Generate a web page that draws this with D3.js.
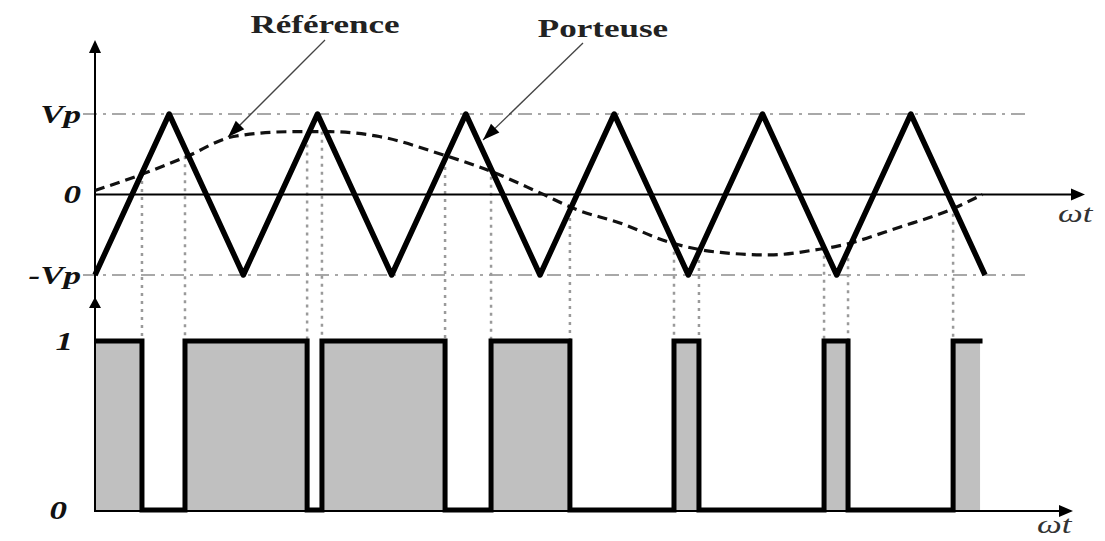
<!DOCTYPE html>
<html>
<head>
<meta charset="utf-8">
<script src="https://cdn.jsdelivr.net/npm/d3@7"></script>
<style>
  html, body { margin: 0; padding: 0; background: #fff; }
  svg { display: block; }
</style>
</head>
<body>
<svg id="chart" width="1105" height="541"></svg>
<script>
// Triangular carrier ("Porteuse"): vertex angles (degrees of ωt) and values in units of Vp
const carrierAngles = [0, 30, 60, 90, 120, 150, 180, 210, 240, 270, 300, 330, 360];
const carrierValues = [-1, 1, -1, 1, -1, 1, -1, 1, -1, 1, -1, 1, -1];

// Modulating reference ("Référence"): sampled angles and values in units of Vp
const referenceAngles = [0, 18, 37, 56, 79, 95, 115, 140, 160, 180, 195, 212, 233, 253, 273, 293, 299, 326, 346, 359];
const referenceValues = [0.05, 0.24, 0.47, 0.72, 0.78, 0.78, 0.72, 0.50, 0.29, 0.02, -0.19, -0.35, -0.60, -0.72, -0.75, -0.68, -0.65, -0.40, -0.19, 0.0];

// PWM output: switching instants (degrees); the output starts at level 1
const switchAngles = [19.0, 36.4, 85.8, 91.8, 141.6, 160.2, 192.1, 234.2, 244.3, 294.9, 304.6, 347.1];
const pwmEndAngle = 358;

// Tick values and labels
const topTickValues = [-1, 0, 1];
const topTickLabels = ["-Vp", "0", "Vp"];
const bottomTickValues = [0, 1];
const bottomTickLabels = ["0", "1"];
const annotationLabels = ["Référence", "Porteuse"];
const timeAxisLabel = "ωt";

const svg = d3.select("#chart");
const serif = "'Liberation Serif', 'DejaVu Serif', serif";
const hStretch = 1.4; // wide lettering

const x = d3.scaleLinear().domain([0, 360]).range([95, 985]);
const yTop = d3.scaleLinear().domain([-1, 1]).range([275, 114]);
const yBot = d3.scaleLinear().domain([0, 1]).range([510, 341]);
const carrierAt = d3.scaleLinear().domain(carrierAngles).range(carrierValues);

function stretchText(sel) {
  sel.each(function () {
    const w = this.getComputedTextLength();
    d3.select(this).attr("textLength", w * hStretch).attr("lengthAdjust", "spacingAndGlyphs");
  });
}

function arrowHead(g, tipX, tipY, angleDeg, len, half) {
  const a = angleDeg * Math.PI / 180;
  const bx = tipX - len * Math.cos(a), by = tipY - len * Math.sin(a);
  const px = -Math.sin(a) * half, py = Math.cos(a) * half;
  g.append("polygon")
    .attr("points", [[tipX, tipY], [bx + px, by + py], [bx - px, by - py]].map(p => p.join(",")).join(" "))
    .attr("fill", "#000");
}

// Dash-dot guide lines at ±Vp
const guides = svg.append("g");
[1, -1].forEach(v => {
  guides.append("line")
    .attr("x1", 83).attr("x2", 1030)
    .attr("y1", yTop(v)).attr("y2", yTop(v))
    .attr("stroke", "#8c8c8c").attr("stroke-width", 1.5)
    .attr("stroke-dasharray", "14,6,3,6");
});

// Dotted projections from each carrier/reference crossing down to the PWM level
svg.append("g").selectAll("line").data(switchAngles).join("line")
  .attr("x1", d => x(d)).attr("x2", d => x(d))
  .attr("y1", d => yTop(carrierAt(d))).attr("y2", yBot(1))
  .attr("stroke", "#9a9a9a").attr("stroke-width", 2.5)
  .attr("stroke-dasharray", "3,5");

// PWM gray fill for the high intervals
const highIntervals = [];
let start = 0;
switchAngles.forEach((a, i) => {
  if (i % 2 === 0) highIntervals.push([start, a]); else start = a;
});
highIntervals.push([start, pwmEndAngle]);
svg.append("g").selectAll("rect").data(highIntervals).join("rect")
  .attr("x", d => x(d[0])).attr("width", d => x(d[1]) - x(d[0]))
  .attr("y", yBot(1)).attr("height", yBot(0) - yBot(1))
  .attr("fill", "#c0c0c0");

// Axes lines
const axes = svg.append("g");
axes.append("line").attr("x1", 95).attr("x2", 95).attr("y1", 512).attr("y2", 50)
  .attr("stroke", "#000").attr("stroke-width", 2);
axes.append("line").attr("x1", 95).attr("x2", 1075).attr("y1", yTop(0)).attr("y2", yTop(0))
  .attr("stroke", "#000").attr("stroke-width", 2);
axes.append("line").attr("x1", 95).attr("x2", 1062).attr("y1", 511).attr("y2", 511)
  .attr("stroke", "#000").attr("stroke-width", 2);
arrowHead(axes, 95, 40, -90, 13, 6);
arrowHead(axes, 95, 297, -90, 11, 6);
arrowHead(axes, 1085, yTop(0), 0, 14, 6);
arrowHead(axes, 1073, 511, 0, 14, 6);

// Reference wave (dashed)
svg.append("path")
  .datum(referenceAngles.map((a, i) => [a, referenceValues[i]]))
  .attr("fill", "none").attr("stroke", "#111").attr("stroke-width", 3.2)
  .attr("stroke-dasharray", "10,6")
  .attr("d", d3.line().x(d => x(d[0])).y(d => yTop(d[1])).curve(d3.curveMonotoneX));

// Carrier (thick triangle)
svg.append("path")
  .datum(carrierAngles.map((a, i) => [a, carrierValues[i]]))
  .attr("fill", "none").attr("stroke", "#000").attr("stroke-width", 5.5)
  .attr("stroke-linejoin", "round")
  .attr("d", d3.line().x(d => x(d[0])).y(d => yTop(d[1])));

// PWM outline (step waveform)
const stepPts = [[0, 1]];
let level = 1;
switchAngles.forEach(a => { stepPts.push([a, level]); level = 1 - level; stepPts.push([a, level]); });
stepPts.push([pwmEndAngle + 1, level]);
svg.append("path")
  .datum(stepPts)
  .attr("fill", "none").attr("stroke", "#000").attr("stroke-width", 5)
  .attr("stroke-linejoin", "miter")
  .attr("d", d3.line().x(d => x(d[0])).y(d => yBot(d[1])));

// Tick labels
function styleTicks(g) {
  g.select(".domain").remove();
  g.selectAll("text")
    .attr("font-family", serif).attr("font-size", 25)
    .attr("font-style", "italic").attr("font-weight", "bold").attr("fill", "#111");
  stretchText(g.selectAll("text"));
}
svg.append("g").attr("transform", "translate(95,0)")
  .call(d3.axisLeft(yTop).tickValues(topTickValues).tickSize(0).tickPadding(14)
    .tickFormat((d, i) => topTickLabels[i]))
  .call(styleTicks);
svg.append("g").attr("transform", "translate(95,0)")
  .call(d3.axisLeft(yBot).tickValues(bottomTickValues).tickSize(0).tickPadding(22)
    .tickFormat((d, i) => bottomTickLabels[i]))
  .call(styleTicks)
  .selectAll("text").attr("dx", (d, i) => i === 0 ? -6 : 0);

// ωt labels
svg.append("g").selectAll("text").data([[1058, 222], [1037, 533]]).join("text")
  .attr("x", d => d[0]).attr("y", d => d[1])
  .attr("font-family", serif).attr("font-size", 25).attr("font-style", "italic")
  .attr("fill", "#333").text(timeAxisLabel)
  .call(stretchText);

// Annotations
const ann = svg.append("g");
const annLayout = [
  { cx: 325, by: 33, from: [325, 40], tip: [228, 137] },
  { cx: 603, by: 37, from: [583, 43], tip: [483, 140] }
];
annLayout.forEach((p, i) => {
  ann.append("text").attr("x", p.cx).attr("y", p.by).attr("text-anchor", "middle")
    .attr("font-family", serif).attr("font-size", 25).attr("font-weight", "bold")
    .attr("fill", "#222").text(annotationLabels[i]).call(stretchText);
  const ang = Math.atan2(p.tip[1] - p.from[1], p.tip[0] - p.from[0]) * 180 / Math.PI;
  ann.append("line").attr("x1", p.from[0]).attr("y1", p.from[1])
    .attr("x2", p.tip[0]).attr("y2", p.tip[1])
    .attr("stroke", "#444").attr("stroke-width", 1.3);
  arrowHead(ann, p.tip[0], p.tip[1], ang, 17, 6);
});
</script>
</body>
</html>
